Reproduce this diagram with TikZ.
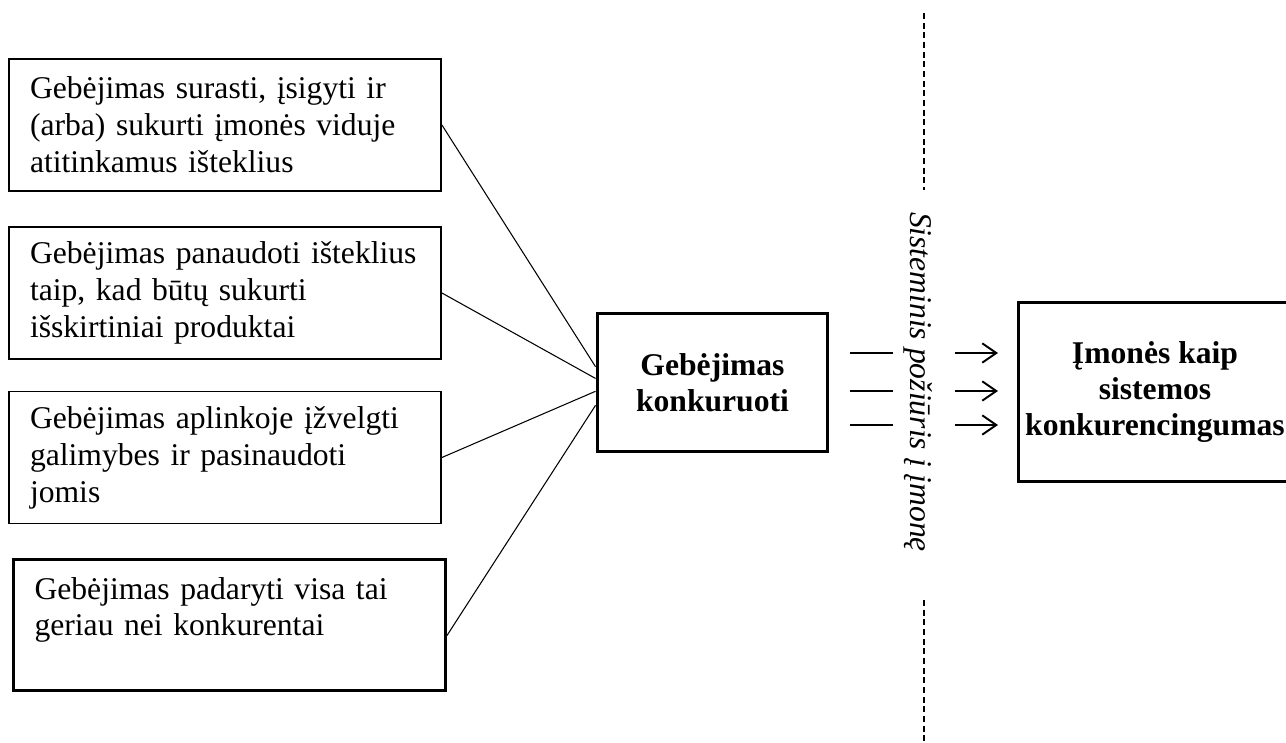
\documentclass[tikz,border=0pt]{standalone}
\usepackage{fontspec}
\setmainfont{Liberation Serif}
\usetikzlibrary{arrows.meta}
\tikzset{
  gbox/.style={draw, line width=1.1pt, rectangle, text width=7.8cm, align=left,
    inner xsep=0.42cm, minimum width=8.64cm, minimum height=2.64cm,
    font=\fontsize{18}{21}\selectfont},
  bbox/.style={draw, line width=1.7pt, rectangle, align=center,
    font=\fontsize{18}{20.5}\selectfont\bfseries},
  link/.style={line width=0.6pt},
  shortln/.style={line width=1.1pt}
}
\begin{document}
\begin{tikzpicture}[x=0.02cm,y=-0.02cm]
  \useasboundingbox (0,0) rectangle (1286,743);
  % gebejimai
  \node[gbox] (surasti) at (225,125) {Gebėjimas surasti, įsigyti ir\\ (arba) sukurti įmonės viduje\\ atitinkamus išteklius};
  \node[gbox] (panaudoti) at (225,293) {Gebėjimas panaudoti išteklius\\ taip, kad būtų sukurti\\ išskirtiniai produktai};
  \node[gbox] (izvelgti) at (225,457.5) {Gebėjimas aplinkoje įžvelgti\\ galimybes ir pasinaudoti\\ jomis};
  \node[gbox, line width=1.7pt] (padaryti) at (229.5,625) {Gebėjimas padaryti visa tai\\ geriau nei konkurentai\\ \mbox{}};
  \node[bbox, minimum width=4.62cm, minimum height=2.78cm] (konk) at (712.5,382.5) {Gebėjimas\\ konkuruoti};
  \node[bbox, minimum width=5.48cm, minimum height=3.6cm] (imone) at (1155,392) {Įmonės kaip\\ sistemos\\ konkurencingumas};
  \node[rotate=-90, font=\fontsize{18}{20}\selectfont\itshape] (poziuris) at (918,382) {Sisteminis požiūris į įmonę};

  \draw[link] (surasti.east) -- ([yshift=9pt]konk.west);
  \draw[link] (panaudoti.east) -- ([yshift=2.3pt]konk.west);
  \draw[link] (izvelgti.east) -- ([yshift=-5pt]konk.west);
  \draw[link] ([yshift=-6pt]padaryti.east) -- ([yshift=-13pt]konk.west);

  % riba
  \draw[line width=0.7pt, dash pattern=on 3.5pt off 2pt] (924,13) -- (924,190);
  \draw[line width=0.7pt, dash pattern=on 3.5pt off 2pt] (924,600) -- (924,743);

  \foreach \y in {353,391,425}{
    \draw[shortln] (850,\y) -- (893,\y);
    \draw[shortln,-{Straight Barb[length=8pt,width=11pt]}] (955,\y) -- (998,\y);
  }
\end{tikzpicture}
\end{document}
